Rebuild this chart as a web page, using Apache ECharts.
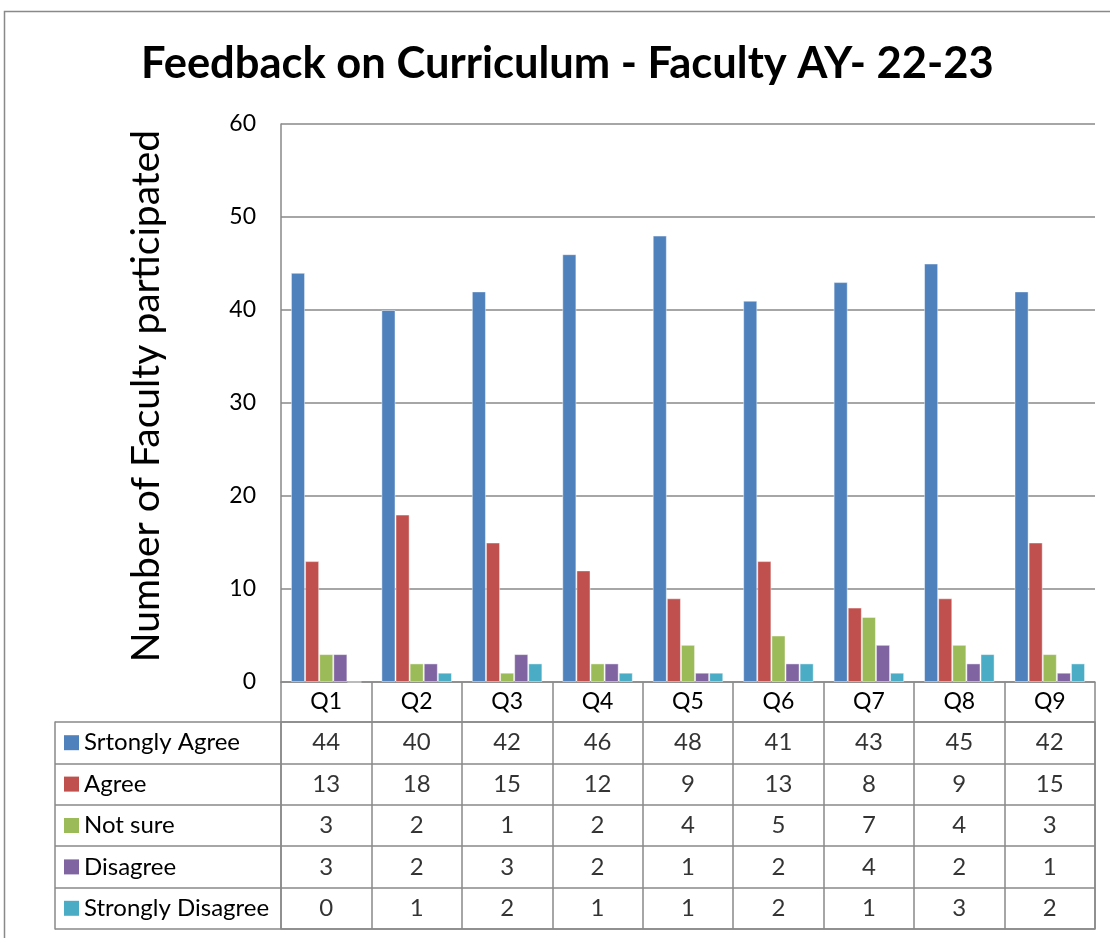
<!DOCTYPE html>
<html>
<head>
<meta charset="utf-8">
<title>Feedback on Curriculum - Faculty AY- 22-23</title>
<script src="https://cdn.jsdelivr.net/npm/echarts@6/dist/echarts.min.js"></script>
<style>
  html, body { margin: 0; padding: 0; background: #fff; }
  #chart { width: 1110px; height: 938px; }
</style>
</head>
<body>
<div id="chart"></div>
<script>
// categories (questions)
const questions = ['Q1', 'Q2', 'Q3', 'Q4', 'Q5', 'Q6', 'Q7', 'Q8', 'Q9'];
// series names as printed in the table (typo kept)
const seriesNames = ['Srtongly Agree', 'Agree', 'Not sure', 'Disagree', 'Strongly Disagree'];
const seriesColors = ['#4F81BD', '#C0504D', '#9BBB59', '#8064A2', '#4BACC6'];

// values per answer
const stronglyAgree = [44, 40, 42, 46, 48, 41, 43, 45, 42];
const agree = [13, 18, 15, 12, 9, 13, 8, 9, 15];
const notSure = [3, 2, 1, 2, 4, 5, 7, 4, 3];
const disagree = [3, 2, 3, 2, 1, 2, 4, 2, 1];
const stronglyDisagree = [0, 1, 2, 1, 1, 2, 1, 3, 2];

// y axis ticks
const yMin = 0;
const yMax = 60;
const yStep = 10;

const allValues = [stronglyAgree, agree, notSure, disagree, stronglyDisagree];
const lineColor = '#898989';
const font = 'Lato, "Open Sans", sans-serif';

let myChart = echarts.init(document.getElementById('chart'));

// bar series
let barSeries = seriesNames.map(function (name, i) {
  return {
    name: name,
    type: 'bar',
    xAxisIndex: 0,
    yAxisIndex: 0,
    barGap: 0,
    barCategoryGap: '22%',
    itemStyle: {
      color: seriesColors[i],
      borderColor: 'rgba(255,255,255,0.45)',
      borderWidth: 1
    },
    data: allValues[i]
  };
});

// data table cells: [column, row, value]
let cellData = [];
allValues.forEach(function (arr, r) {
  arr.forEach(function (v, c) {
    cellData.push([c, r, v]);
  });
});

// row label rich styles (coloured squares)
let rich = {
  t: { fontSize: 24, fontFamily: font, color: '#000', padding: [0, 0, 0, 5] }
};
seriesColors.forEach(function (c, i) {
  rich['s' + i] = { width: 15, height: 15, backgroundColor: c };
});

let option = {
  animation: false,
  backgroundColor: '#fff',
  title: {
    text: 'Feedback on Curriculum - Faculty AY- 22-23',
    left: 136,
    top: 37,
    textStyle: {
      fontFamily: font,
      fontWeight: 'bold',
      fontSize: 43.5,
      color: '#000'
    }
  },
  graphic: [{
    type: 'rect',
    shape: { x: 4.5, y: 11.5, width: 1200, height: 1000 },
    style: { fill: 'none', stroke: lineColor, lineWidth: 1.5 },
    silent: true
  }],
  grid: [
    { // bar chart
      left: 281, right: 15, top: 124, height: 558,
      outerBoundsMode: 'none'
    },
    { // data table
      left: 281, right: 15, top: 722, height: 207,
      show: true, borderColor: lineColor, borderWidth: 1.5,
      outerBoundsMode: 'none'
    }
  ],
  xAxis: [
    {
      type: 'category',
      gridIndex: 0,
      data: questions,
      axisLine: { show: true, lineStyle: { color: lineColor, width: 1.5 } },
      axisTick: { show: true, length: 40, alignWithLabel: false, lineStyle: { color: lineColor, width: 1.5 } },
      axisLabel: { margin: 8, fontSize: 23, fontFamily: font, color: '#000' },
      splitLine: { show: false }
    },
    {
      type: 'category',
      gridIndex: 1,
      data: questions,
      axisLine: { show: false },
      axisTick: { show: false },
      axisLabel: { show: false },
      splitLine: { show: true, lineStyle: { color: lineColor, width: 1.5 } }
    }
  ],
  yAxis: [
    {
      type: 'value',
      gridIndex: 0,
      min: yMin,
      max: yMax,
      interval: yStep,
      name: 'Number of Faculty participated',
      nameLocation: 'middle',
      nameGap: 115,
      nameTextStyle: { fontSize: 39, fontFamily: font, color: '#000', padding: [0, 0, 0, 14] },
      axisLine: { show: true, lineStyle: { color: lineColor, width: 1.5 } },
      axisTick: { show: false },
      axisLabel: { margin: 25, fontSize: 23, fontFamily: font, color: '#000' },
      splitLine: { show: true, lineStyle: { color: lineColor, width: 1.5 } }
    },
    {
      type: 'category',
      gridIndex: 1,
      inverse: true,
      data: seriesNames,
      axisLine: { show: false },
      axisTick: { show: true, length: 226, alignWithLabel: false, lineStyle: { color: lineColor, width: 1.5 } },
      axisLabel: {
        align: 'left',
        margin: 217,
        formatter: function (value, idx) {
          return '{s' + idx + '|}{t|' + value + '}';
        },
        rich: rich
      },
      splitLine: { show: true, lineStyle: { color: lineColor, width: 1.5 } }
    },
    { // left border of the label column
      type: 'category',
      gridIndex: 1,
      position: 'left',
      offset: 226,
      data: seriesNames,
      axisLine: { show: true, lineStyle: { color: lineColor, width: 1.5 } },
      axisTick: { show: false },
      axisLabel: { show: false },
      splitLine: { show: false }
    }
  ],
  series: barSeries.concat([{
    name: 'table',
    type: 'scatter',
    xAxisIndex: 1,
    yAxisIndex: 1,
    symbolSize: 0,
    silent: true,
    label: {
      show: true,
      position: 'inside',
      fontSize: 24,
      fontFamily: font,
      color: '#000',
      formatter: function (p) { return p.value[2]; }
    },
    data: cellData
  }])
};

// 使用刚指定的配置项和数据显示图表。
myChart.setOption(option);
</script>
</body>
</html>
